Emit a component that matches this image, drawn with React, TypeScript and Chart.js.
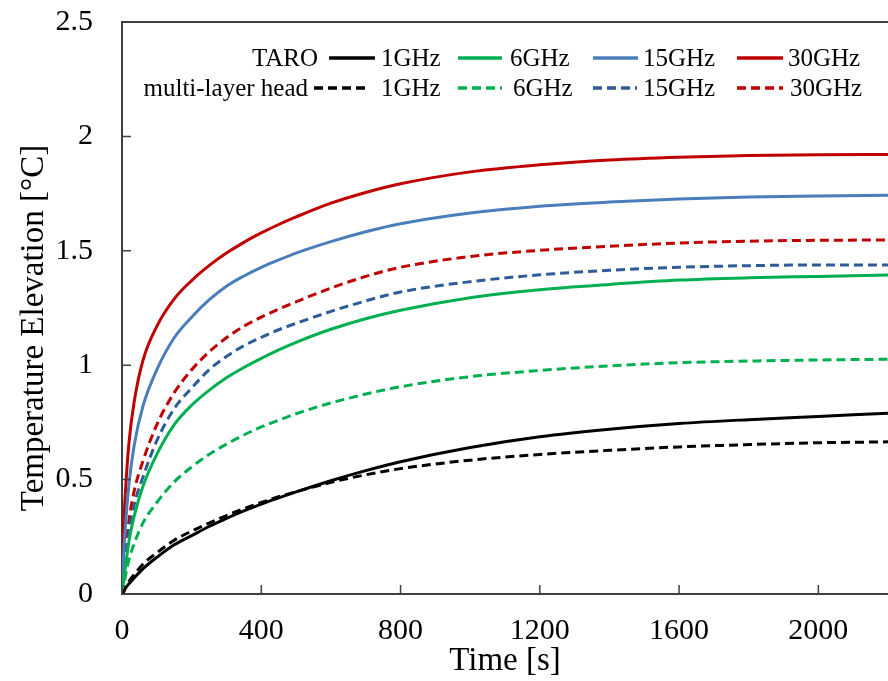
import React, { useEffect, useRef } from "react";
import { Chart, registerables } from "chart.js";

Chart.register(...registerables);

// Time [s]
const times = [0, 5, 10, 20, 35, 60, 100, 150, 200, 250, 300, 350, 400, 450, 500, 600, 700, 800, 1000, 1200, 1400, 1600, 1800, 2000, 2200];

// TARO
const taro1GHz = [0, 0.01, 0.025, 0.045, 0.07, 0.11, 0.16, 0.215, 0.255, 0.295, 0.33, 0.363, 0.393, 0.42, 0.446, 0.495, 0.539, 0.578, 0.64, 0.687, 0.72, 0.745, 0.762, 0.776, 0.79];
const taro6GHz = [0, 0.06, 0.12, 0.23, 0.34, 0.47, 0.61, 0.74, 0.825, 0.89, 0.945, 0.99, 1.03, 1.067, 1.1, 1.157, 1.203, 1.24, 1.295, 1.33, 1.353, 1.372, 1.382, 1.388, 1.394];
const taro15GHz = [0, 0.18, 0.3, 0.48, 0.65, 0.82, 0.98, 1.12, 1.21, 1.285, 1.345, 1.39, 1.428, 1.46, 1.49, 1.54, 1.583, 1.618, 1.665, 1.695, 1.713, 1.726, 1.735, 1.74, 1.743];
const taro30GHz = [0, 0.3, 0.45, 0.66, 0.84, 1.02, 1.17, 1.29, 1.37, 1.435, 1.49, 1.537, 1.578, 1.615, 1.648, 1.708, 1.755, 1.793, 1.845, 1.876, 1.897, 1.909, 1.916, 1.92, 1.921];

// multi-layer head
const multi1GHz = [0, 0.015, 0.03, 0.055, 0.085, 0.13, 0.18, 0.235, 0.275, 0.31, 0.343, 0.373, 0.4, 0.425, 0.447, 0.488, 0.521, 0.548, 0.585, 0.61, 0.628, 0.643, 0.653, 0.661, 0.665];
const multi6GHz = [0, 0.04, 0.08, 0.15, 0.22, 0.31, 0.4, 0.49, 0.555, 0.61, 0.655, 0.695, 0.73, 0.76, 0.788, 0.835, 0.874, 0.906, 0.95, 0.977, 0.997, 1.011, 1.018, 1.023, 1.026];
const multi15GHz = [0, 0.08, 0.15, 0.27, 0.39, 0.51, 0.67, 0.81, 0.9, 0.98, 1.038, 1.085, 1.122, 1.155, 1.183, 1.235, 1.281, 1.32, 1.365, 1.395, 1.415, 1.428, 1.435, 1.438, 1.438];
const multi30GHz = [0, 0.1, 0.18, 0.32, 0.45, 0.58, 0.74, 0.88, 0.98, 1.058, 1.12, 1.17, 1.21, 1.245, 1.277, 1.337, 1.388, 1.428, 1.475, 1.502, 1.52, 1.534, 1.542, 1.546, 1.547];

const models = ["TARO", "multi-layer head"];
const freqs = ["1GHz", "6GHz", "15GHz", "30GHz"];
const solidColors = ["#000000", "#00b050", "#4a7ebb", "#c00000"];
const dashedColors = ["#000000", "#00b050", "#2d5c99", "#c00000"];

const FONT = "'Liberation Serif', 'Times New Roman', serif";

const toPts = (vals: number[]) => times.map((t, i) => ({ x: t, y: vals[i] }));

const framePlugin = {
  id: "frame",
  afterDraw(chart: any) {
    const { ctx, chartArea } = chart;
    const xs = chart.scales.x;
    const ys = chart.scales.y;
    ctx.save();
    ctx.strokeStyle = "#404040";
    ctx.lineWidth = 2;
    ctx.beginPath();
    ctx.moveTo(chartArea.left, chartArea.top);
    ctx.lineTo(chartArea.right, chartArea.top);
    ctx.stroke();
    ctx.lineWidth = 1.5;
    ctx.beginPath();
    xs.ticks.forEach((t: any) => {
      const px = xs.getPixelForValue(t.value);
      ctx.moveTo(px, chartArea.bottom);
      ctx.lineTo(px, chartArea.bottom - 9);
    });
    ys.ticks.forEach((t: any) => {
      const py = ys.getPixelForValue(t.value);
      ctx.moveTo(chartArea.left, py);
      ctx.lineTo(chartArea.left + 9, py);
    });
    ctx.stroke();
    ctx.fillStyle = "#000";
    ctx.font = `33px ${FONT}`;
    ctx.textAlign = "center";
    ctx.textBaseline = "middle";
    ctx.translate(34, 328);
    ctx.rotate(-Math.PI / 2);
    ctx.fillText("Temperature Elevation [°C]", 0, 0);
    ctx.restore();

    ctx.save();
    ctx.font = `25px ${FONT}`;
    ctx.fillStyle = "#000";
    ctx.textBaseline = "alphabetic";
    const rowBase = [66, 96];
    const rowLabelRight = [318, 308];
    const lineStart = [[329, 458, 593, 737], [314, 458, 593, 737]];
    const lineEnd = [[375, 502, 638, 783], [365, 502, 637, 783]];
    const textX = [[381, 510, 643, 788], [381, 513, 643, 790]];
    const ds = chart.data.datasets;
    for (let r = 0; r < 2; r++) {
      ctx.textAlign = "right";
      ctx.fillText(models[r], rowLabelRight[r], rowBase[r]);
      for (let c = 0; c < 4; c++) {
        const d = ds[r * 4 + c];
        const yMid = rowBase[r] - 8;
        ctx.strokeStyle = d.borderColor;
        ctx.lineWidth = 3.5;
        ctx.setLineDash(d.borderDash || []);
        ctx.beginPath();
        ctx.moveTo(lineStart[r][c], yMid);
        ctx.lineTo(lineEnd[r][c], yMid);
        ctx.stroke();
        ctx.setLineDash([]);
        ctx.textAlign = "left";
        ctx.fillText(freqs[c], textX[r][c], rowBase[r]);
      }
    }
    ctx.restore();
  },
};

export default function App() {
  const ref = useRef<HTMLCanvasElement | null>(null);
  useEffect(() => {
    document.body.style.margin = "0";
    const taro = [taro1GHz, taro6GHz, taro15GHz, taro30GHz];
    const multi = [multi1GHz, multi6GHz, multi15GHz, multi30GHz];
    const datasets: any[] = [];
    taro.forEach((v, i) =>
      datasets.push({
        label: `TARO ${freqs[i]}`,
        data: toPts(v),
        borderColor: solidColors[i],
        borderWidth: 3,
        pointRadius: 0,
        fill: false,
        cubicInterpolationMode: "monotone",
      })
    );
    multi.forEach((v, i) =>
      datasets.push({
        label: `multi-layer head ${freqs[i]}`,
        data: toPts(v),
        borderColor: dashedColors[i],
        borderWidth: 3,
        borderDash: [9, 5],
        pointRadius: 0,
        fill: false,
        cubicInterpolationMode: "monotone",
      })
    );
    const chart = new Chart(ref.current!, {
      type: "line",
      data: { datasets },
      options: {
        animation: false,
        responsive: false,
        maintainAspectRatio: false,
        layout: { padding: { top: 22, left: 0, right: 0, bottom: 0 } },
        plugins: { legend: { display: false }, tooltip: { enabled: false } },
        scales: {
          x: {
            type: "linear",
            min: 0,
            max: 2200,
            grid: { display: false },
            border: { display: true, color: "#404040", width: 2 },
            ticks: {
              stepSize: 400,
              includeBounds: false,
              padding: 11,
              color: "#000",
              font: { family: FONT, size: 30 },
              callback: (v: any) => String(v),
            },
            title: {
              display: true,
              text: "Time [s]",
              color: "#000",
              font: { family: FONT, size: 33 },
              padding: { top: 0, bottom: 0 },
            },
            afterFit: (s: any) => {
              s.height = 87;
            },
          },
          y: {
            min: 0,
            max: 2.5,
            grid: {
              display: true,
              drawOnChartArea: false,
              drawTicks: true,
              tickLength: 28,
              color: "rgba(0,0,0,0)",
            },
            border: { display: true, color: "#404040", width: 2 },
            ticks: {
              stepSize: 0.5,
              padding: 1,
              color: "#000",
              font: { family: FONT, size: 30 },
              callback: (v: any) => String(Math.round(v * 10) / 10),
            },
            afterFit: (s: any) => {
              s.width = 122;
            },
          },
        },
      },
      plugins: [framePlugin],
    });
    return () => chart.destroy();
  }, []);
  return <canvas ref={ref} width={888} height={681} style={{ display: "block" }} />;
}
